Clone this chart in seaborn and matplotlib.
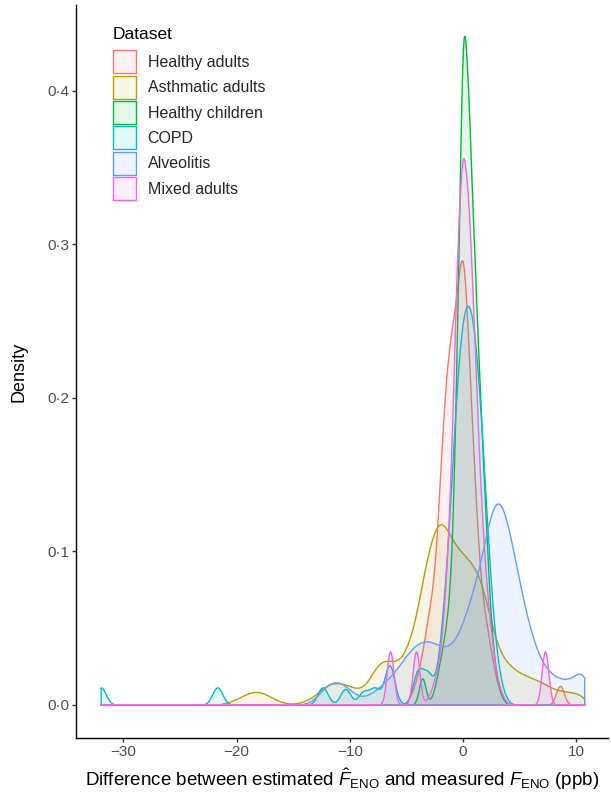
import numpy as np
import pandas as pd
import matplotlib
matplotlib.use("Agg")
import matplotlib.pyplot as plt
import seaborn as sns
from matplotlib.patches import Patch
from matplotlib.colors import to_rgba

sns.set_style("ticks")
plt.rcParams['font.family'] = ['Liberation Sans', 'DejaVu Sans']
plt.rcParams['mathtext.fontset'] = 'custom'
plt.rcParams['mathtext.rm'] = 'Liberation Sans'
plt.rcParams['mathtext.it'] = 'Liberation Sans:italic'
plt.rcParams['mathtext.bf'] = 'Liberation Sans:bold'

# ---------------- data (differences, ppb, with relative frequencies) ----------------
datasets = ["Healthy adults", "Asthmatic adults", "Healthy children",
            "COPD", "Alveolitis", "Mixed adults"]
colors = ["#F8766D", "#B79F00", "#00BA38", "#00BFC4", "#619CFF", "#F564E3"]
bandwidths = [0.35, 0.5, 0.3, 0.45, 0.6, 0.3]

healthy_adults_x = [-4.5, -4, -3.5, -3, -2.5, -2, -1.5, -1, -0.5, 0, 0.5, 1, 1.5,
                    2, 2.5, 3, 3.5, 8.56]
healthy_adults_w = [0.008, 0.02, 0.04, 0.068, 0.085, 0.165, 0.235, 0.262, 0.285,
                    0.34, 0.245, 0.16, 0.085, 0.06, 0.035, 0.014, 0.003, 0.023]

asthmatic_x = [-21, -20.5, -20, -19.5, -19, -18.5, -18, -17.5, -17, -16.5, -16,
               -15.5, -15, -14.5, -14, -13.5, -13, -12.5, -12, -11.5, -11, -10.5,
               -10, -9.5, -9, -8.5, -8, -7.5, -7, -6.5, -6, -5.5, -5, -4.5, -4,
               -3.5, -3, -2.5, -2, -1.5, -1, -0.5, 0, 0.5, 1, 1.5, 2, 2.5, 3, 3.5,
               4, 4.5, 5, 5.5, 6, 6.5, 7, 7.5, 8, 8.5, 9, 9.5, 10, 10.5]
asthmatic_w = [0.001, 0.002, 0.0035, 0.0055, 0.0075, 0.0086, 0.0085, 0.0072,
               0.005, 0.003, 0.0015, 0.0006, 0.0005, 0.001, 0.002, 0.004, 0.006,
               0.01, 0.013, 0.014, 0.014, 0.0135, 0.012, 0.01, 0.01, 0.013, 0.02,
               0.027, 0.029, 0.028, 0.027, 0.028, 0.035, 0.045, 0.06, 0.084, 0.1,
               0.114, 0.12, 0.114, 0.105, 0.1, 0.096, 0.093, 0.088, 0.082, 0.068,
               0.052, 0.037, 0.03, 0.026, 0.023, 0.02, 0.019, 0.017, 0.016, 0.014,
               0.012, 0.01, 0.009, 0.0085, 0.008, 0.0075, 0.007]

healthy_children_x = [-3.6, -2.5, -2, -1.5, -1, -0.5, 0, 0.5, 1, 1.5, 2, 2.5, 3, 3.5]
healthy_children_w = [0.0256, 0.01, 0.03, 0.05, 0.085, 0.24, 0.48, 0.39, 0.29,
                      0.2, 0.12, 0.045, 0.015, 0.003]

copd_x = [-32, -21.7, -12.4, -10.4, -8.8, -7.8, -6.5, -4.0, -3.1, -2, -1.5, -1,
          -0.5, 0, 0.5, 1, 1.5, 2, 2.5, 3, 3.5]
copd_w = [0.0248, 0.0248, 0.0248, 0.0226, 0.018, 0.0226, 0.056, 0.045, 0.04,
          0.04, 0.08, 0.14, 0.22, 0.255, 0.265, 0.245, 0.2, 0.13, 0.065, 0.025,
          0.008]

alveolitis_x = [-13.5, -13, -12.5, -12, -11.5, -11, -10.5, -10, -9.5, -9, -8.5,
                -8, -7.5, -7, -6.5, -6, -5.5, -5, -4.5, -4, -3.5, -3, -2.5, -2,
                -1.5, -1, -0.5, 0, 0.5, 1, 1.5, 2, 2.5, 3, 3.5, 4, 4.5, 5, 5.5,
                6, 6.5, 7, 7.5, 8, 8.5, 9, 9.5, 10, 10.5, 10.7]
alveolitis_w = [0.001, 0.004, 0.009, 0.014, 0.016, 0.016, 0.014, 0.01, 0.006,
                0.0045, 0.005, 0.008, 0.011, 0.014, 0.018, 0.022, 0.027, 0.033,
                0.038, 0.041, 0.043, 0.043, 0.041, 0.038, 0.037, 0.039, 0.043,
                0.055, 0.065, 0.078, 0.092, 0.11, 0.132, 0.145, 0.135, 0.12, 0.1,
                0.08, 0.062, 0.047, 0.035, 0.027, 0.022, 0.019, 0.017, 0.016,
                0.017, 0.018, 0.018, 0.025]

mixed_adults_x = [-6.44, -4.15, -3, -2.5, -2, -1.5, -1, -0.5, 0, 0.5, 1, 1.5, 2,
                  2.5, 3, 3.5, 7.24]
mixed_adults_w = [0.0474, 0.0474, 0.005, 0.015, 0.03, 0.07, 0.15, 0.28, 0.34,
                  0.30, 0.22, 0.13, 0.075, 0.04, 0.015, 0.005, 0.0474]

x_ticks = [-30, -20, -10, 0, 10]
x_tick_labels = ["\u221230", "\u221220", "\u221210", "0", "10"]
y_ticks = [0.0, 0.1, 0.2, 0.3, 0.4]
y_tick_labels = ["0\u00b70", "0\u00b71", "0\u00b72", "0\u00b73", "0\u00b74"]

series = [(healthy_adults_x, healthy_adults_w), (asthmatic_x, asthmatic_w),
          (healthy_children_x, healthy_children_w), (copd_x, copd_w),
          (alveolitis_x, alveolitis_w), (mixed_adults_x, mixed_adults_w)]

frames = []
for name, (xs, ws) in zip(datasets, series):
    frames.append(pd.DataFrame({"Dataset": name, "diff": xs, "w": ws}))
df = pd.concat(frames, ignore_index=True)

lo, hi = df["diff"].min(), df["diff"].max()

# ---------------- figure ----------------
fig = plt.figure(figsize=(6.11, 7.98), dpi=100)
ax = fig.add_axes([0.1252, 0.0752, 0.8705, 0.9185])

for name, col, h in zip(datasets, colors, bandwidths):
    sub = df[df["Dataset"] == name]
    sd = np.sqrt(np.cov(sub["diff"].to_numpy(), aweights=sub["w"].to_numpy()))
    sns.kdeplot(data=sub, x="diff", weights="w", bw_method=h / sd, cut=1000,
                clip=(lo, hi), gridsize=4000, fill=True, color=col, alpha=0.1,
                linewidth=1.0, ax=ax)

pad = 0.05 * (hi - lo)
ax.set_xlim(lo - pad, hi + pad)
ax.set_ylim(-0.0217, 0.456)

ax.set_xticks(x_ticks)
ax.set_xticklabels(x_tick_labels)
ax.set_yticks(y_ticks)
ax.set_yticklabels(y_tick_labels)

sns.despine(ax=ax)
for s in ["left", "bottom"]:
    ax.spines[s].set_color("black")
    ax.spines[s].set_linewidth(1.0)
ax.tick_params(axis="both", colors="#333333", length=2.8, width=1.0,
               labelsize=11, labelcolor="#4D4D4D", pad=2.5)

ax.set_ylabel("Density", fontsize=13, color="black")
ax.yaxis.set_label_coords(-0.092, 0.5)
ax.set_xlabel(r"Difference between estimated $\hat{F}_{\mathrm{ENO}}$ and measured $F_{\mathrm{ENO}}$ (ppb)",
              fontsize=13.5, color="black", labelpad=5)

handles = [Patch(facecolor=to_rgba(c, 0.1), edgecolor=c, linewidth=1.0)
           for c in colors]
leg = ax.legend(handles, datasets, loc="upper left",
                bbox_to_anchor=(0.068, 0.938), frameon=False, fontsize=11.5,
                handlelength=1.44, handleheight=1.84,
                labelspacing=0.144, handletextpad=0.75, borderpad=0,
                borderaxespad=0)
ax.text(0.0686, 0.9604, "Dataset", transform=ax.transAxes, ha="left",
        va="center", fontsize=12.5, color="black")

fig.savefig("out.png", dpi=100)
